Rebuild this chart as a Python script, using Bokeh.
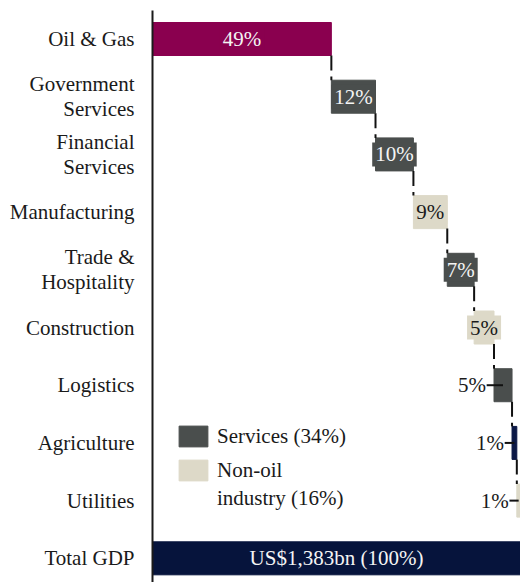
from bokeh.plotting import figure
from bokeh.models import Range1d, FixedTicker, Legend, LegendItem, ColumnDataSource
from bokeh.core.properties import value
from bokeh.embed import file_html
from bokeh.resources import INLINE

categories = ["Oil & Gas", "Government\nServices", "Financial\nServices", "Manufacturing",
              "Trade &\nHospitality", "Construction", "Logistics", "Agriculture", "Utilities", "Total GDP"]
values = [48.6, 12.0, 10.3, 9.2, 7.3, 5.4, 4.9, 1.3, 1.0]
total_value = 100.0
bar_labels = ["49%", "12%", "10%", "9%", "7%", "5%", "5%", "1%", "1%"]
total_label = "US$1,383bn (100%)"
groups = ["oil", "services", "services", "industry", "services", "industry", "services", "agri", "industry"]
legend_services = "Services (34%)"
legend_industry = ["Non-oil", "industry (16%)"]

palette = {"oil": "#8A004F", "services": "#4A4E4D", "industry": "#DDD9C8", "agri": "#0B1846", "total": "#06143C"}
text_col = {"oil": "#F4F4F4", "services": "#F4F4F4", "industry": "#1A1A1A", "agri": "#F4F4F4", "total": "#F4F4F4"}

FONT = "Liberation Serif"
FS = "21px"
BAR_H = 0.572

# waterfall geometry
starts, ends = [], []
acc = 0.0
for v in values:
    starts.append(acc)
    acc += v
    ends.append(acc)
n = len(values)
idx = list(range(n))

src = ColumnDataSource(dict(
    y=idx + [n], left=starts + [0.0], right=ends + [total_value],
    color=[palette[g] for g in groups] + [palette["total"]],
))

p = figure(width=520, height=582, output_backend="svg", toolbar_location=None,
           x_range=Range1d(0, 100), y_range=Range1d(9.419, -0.494),
           min_border_left=152, min_border_right=0, min_border_top=10, min_border_bottom=0)
p.xaxis.visible = False
p.xgrid.visible = False
p.ygrid.visible = False
p.outline_line_color = None
p.background_fill_color = "white"
p.border_fill_color = "white"

yax = p.yaxis[0]
yax.ticker = FixedTicker(ticks=list(range(n + 1)))
yax.major_label_overrides = {i: c for i, c in enumerate(categories)}
yax.major_tick_line_color = None
yax.minor_tick_line_color = None
yax.major_label_standoff = 12
yax.axis_line_color = "#1A1A1A"
yax.axis_line_width = 2
yax.major_label_text_font = FONT
yax.major_label_text_font_size = FS
yax.major_label_text_color = "#1A1A1A"
yax.major_label_text_line_height = 1.05

bars = p.hbar(y="y", left="left", right="right", height=BAR_H, color="color", source=src)
dummy = p.hbar(y=[], left=[], right=[], height=BAR_H, fill_alpha=0, line_alpha=0)

# connectors
cx = ends[:-1]
cy0 = [i + BAR_H / 2 for i in idx[:-1]]
cy1 = [i + 1 - BAR_H / 2 for i in idx[:-1]]
p.segment(x0=cx, x1=cx, y0=cy0, y1=cy1, line_color="#111111", line_width=2, line_dash="15 6")

# inside labels
inside = [i for i in idx if values[i] >= 5]
outside = [i for i in idx if values[i] < 5]
for i in inside:
    g = groups[i]
    p.text(x=[(starts[i] + ends[i]) / 2], y=[i], text=[bar_labels[i]],
           text_align="center", text_baseline="middle", text_font=value(FONT),
           text_font_size=FS, text_color=text_col[g],
           background_fill_color=palette[g], padding=[3, 0])

# outside labels with leader lines
oy = list(outside)
p.segment(x0=[starts[i] - 2.0 for i in outside], x1=[starts[i] + values[i] / 2 for i in outside],
          y0=oy, y1=oy, line_color="#111111", line_width=2)
p.text(x=[starts[i] for i in outside], y=oy, text=[bar_labels[i] for i in outside], x_offset=-8,
       text_align="right", text_baseline="middle", text_font=value(FONT),
       text_font_size=FS, text_color="#1A1A1A")

# total label
p.text(x=[total_value / 2], y=[n], text=[total_label], text_align="center", text_baseline="middle",
       text_font=value(FONT), text_font_size=FS, text_color=text_col["total"])


def style_legend(lg):
    lg.padding = 0
    lg.margin = 0
    lg.border_line_color = None
    lg.background_fill_alpha = 0
    lg.glyph_width = 36
    lg.glyph_height = 26
    lg.label_standoff = 6
    lg.spacing = 8
    lg.label_text_font = FONT
    lg.label_text_font_size = FS
    lg.label_text_color = "#1A1A1A"
    lg.label_height = 26


legend1 = Legend(items=[
    LegendItem(label=legend_services, renderers=[bars], index=groups.index("services")),
    LegendItem(label=legend_industry[0], renderers=[bars], index=groups.index("industry")),
], location=(23, 99), orientation="vertical")
style_legend(legend1)
legend2 = Legend(items=[LegendItem(label=legend_industry[1], renderers=[dummy])],
                 location=(23, 71), orientation="vertical")
style_legend(legend2)
p.add_layout(legend1, "center")
p.add_layout(legend2, "center")

open("out.html", "w").write(file_html(p, INLINE))
